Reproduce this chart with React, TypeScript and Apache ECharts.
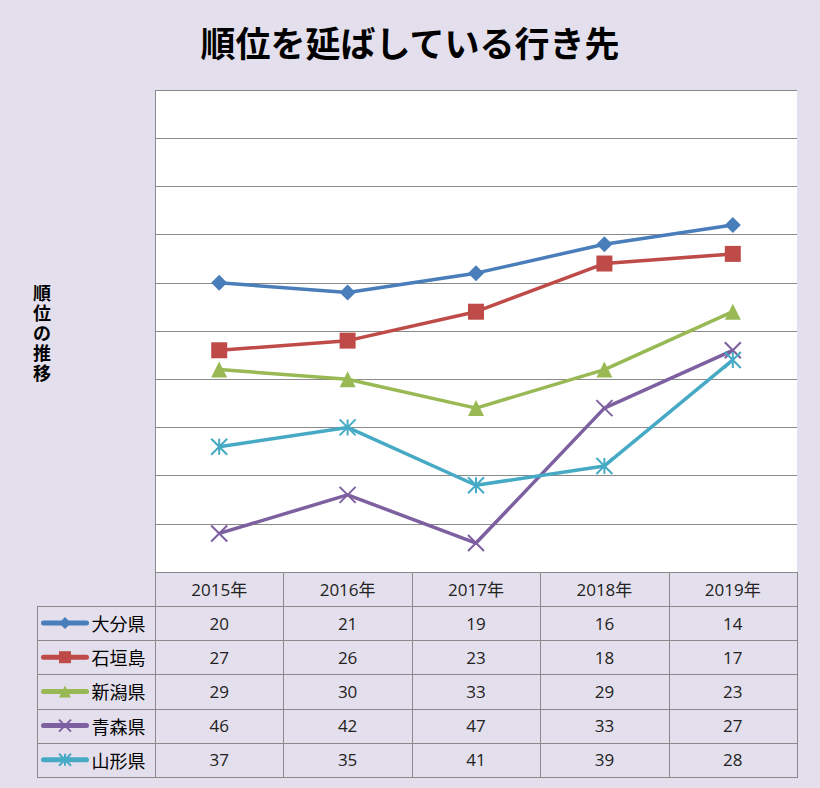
import React, { useEffect, useRef } from "react";
import * as echarts from "echarts";

const categories = ["2015年", "2016年", "2017年", "2018年", "2019年"];
const seriesNames = ["大分県", "石垣島", "新潟県", "青森県", "山形県"];
const oita = [20, 21, 19, 16, 14];
const ishigaki = [27, 26, 23, 18, 17];
const niigata = [29, 30, 33, 29, 23];
const aomori = [46, 42, 47, 33, 27];
const yamagata = [37, 35, 41, 39, 28];
const seriesValues = [oita, ishigaki, niigata, aomori, yamagata];
const yAxisTitle = "順位の推移";

const colors = ["#4A7EBB", "#BE4B48", "#98B954", "#7D60A0", "#46AAC5"];
const X_PATH = "path://M0 0 L10 10 M10 0 L0 10";
const STAR_PATH = "path://M0 0 L10 10 M10 0 L0 10 M5 0 L5 10";
const symbols = ["diamond", "rect", "triangle", X_PATH, STAR_PATH];

const W = 820;
const H = 788;
const PLOT_L = 155;
const PLOT_R = 797;
const PLOT_T = 90;
const PLOT_B = 572;
const ROW_H = 34.2;
const TABLE_L = 37;
const HEADER_H = 34;
const LINE_COLOR = "#8A8A8A";
const FONT_JP = "'Noto Sans CJK JP', sans-serif";
const FONT_NUM = "'Open Sans', 'Noto Sans CJK JP', sans-serif";

export default function App() {
  const ref = useRef<HTMLDivElement>(null);

  useEffect(() => {
    if (!ref.current) return;
    const chart = echarts.init(ref.current, null, { renderer: "svg" });
    const colW = (PLOT_R - PLOT_L) / categories.length;
    const rowTop = PLOT_B + HEADER_H;
    const tableBottom = rowTop + ROW_H * seriesNames.length;

    const graphics: any[] = [];
    const ln = (x1: number, y1: number, x2: number, y2: number) => ({
      type: "line",
      shape: { x1, y1, x2, y2 },
      style: { stroke: LINE_COLOR, lineWidth: 1 },
      silent: true,
    });
    // left border of plot + table
    graphics.push(ln(PLOT_L + 0.5, PLOT_T, PLOT_L + 0.5, tableBottom));
    // column boundaries
    for (let i = 1; i <= categories.length; i++) {
      const x = Math.round(PLOT_L + i * colW) + 0.5;
      graphics.push(ln(x, PLOT_B, x, tableBottom));
    }
    // legend column left border
    graphics.push(ln(TABLE_L + 0.5, rowTop, TABLE_L + 0.5, tableBottom));
    // horizontal lines
    graphics.push(ln(PLOT_L, PLOT_B + 0.5, PLOT_R, PLOT_B + 0.5));
    for (let k = 0; k <= seriesNames.length; k++) {
      const y = Math.round(rowTop + k * ROW_H) + 0.5;
      graphics.push(ln(TABLE_L, y, PLOT_R + 1, y));
    }
    // header texts
    categories.forEach((c, i) => {
      graphics.push({
        type: "text",
        x: PLOT_L + (i + 0.5) * colW,
        y: PLOT_B + HEADER_H / 2,
        silent: true,
        style: {
          text: c,
          fill: "#222",
          font: `17px ${FONT_NUM}`,
          textAlign: "center",
          textVerticalAlign: "middle",
        },
      });
    });
    // values
    seriesValues.forEach((vals, r) => {
      vals.forEach((v, i) => {
        graphics.push({
          type: "text",
          x: PLOT_L + (i + 0.5) * colW,
          y: rowTop + (r + 0.5) * ROW_H,
          silent: true,
          style: {
            text: String(v),
            fill: "#222",
            font: `17px ${FONT_NUM}`,
            textAlign: "center",
            textVerticalAlign: "middle",
          },
        });
      });
    });
    // y axis name (vertical stacked, one glyph per element)
    const chars = Array.from(yAxisTitle);
    const step = 20;
    const midY = (PLOT_T + PLOT_B) / 2 + 1;
    chars.forEach((ch, k) => {
      graphics.push({
        type: "text",
        x: 42,
        y: midY + (k - (chars.length - 1) / 2) * step,
        silent: true,
        style: {
          text: ch,
          fill: "#000",
          fontSize: 18,
          fontWeight: "bold",
          fontFamily: FONT_JP,
          lineHeight: 18,
          textAlign: "center",
          textVerticalAlign: "middle",
        },
      });
    });

    const option: any = {
      animation: false,
      backgroundColor: "#E4DFEC",
      title: {
        text: "順位を延ばしている行き先",
        left: "center",
        top: 19,
        textStyle: {
          fontSize: 35,
          fontWeight: "bold",
          color: "#000",
          fontFamily: FONT_JP,
        },
      },
      legend: {
        orient: "vertical",
        left: 41,
        top: rowTop + 7,
        itemWidth: 43,
        itemHeight: 15,
        itemGap: ROW_H - 20,
        padding: 0,
        selectedMode: false,
        data: seriesNames,
        lineStyle: { width: 5, cap: "round" },
        textStyle: {
          fontSize: 18,
          lineHeight: 20,
          color: "#000",
          fontFamily: FONT_JP,
        },
      },
      grid: {
        left: PLOT_L,
        right: W - PLOT_R,
        top: PLOT_T,
        bottom: H - PLOT_B,
        show: true,
        backgroundColor: "#FFFFFF",
        borderWidth: 0,
      },
      xAxis: {
        type: "category",
        data: categories,
        boundaryGap: true,
        axisLabel: { show: false },
        axisTick: { show: false },
        axisLine: { show: false },
        splitLine: { show: false },
      },
      yAxis: {
        type: "value",
        inverse: true,
        min: 0,
        max: 50,
        interval: 5,
        axisLabel: { show: false },
        axisTick: { show: false },
        axisLine: { show: false },
        splitLine: { show: true, lineStyle: { color: LINE_COLOR, width: 1 } },
      },
      series: seriesNames.map((name, i) => ({
        type: "line",
        name,
        data: seriesValues[i],
        symbol: symbols[i],
        symbolSize: 16,
        lineStyle: { width: 3.5, color: colors[i] },
        itemStyle: {
          color: colors[i],
          borderColor: colors[i],
          borderWidth: i >= 3 ? 2 : 0,
        },
        z: 3,
      })),
      graphic: graphics,
    };
    chart.setOption(option);
    return () => chart.dispose();
  }, []);

  return (
    <div
      ref={ref}
      style={{ position: "absolute", left: 0, top: 0, width: W, height: H }}
    />
  );
}
